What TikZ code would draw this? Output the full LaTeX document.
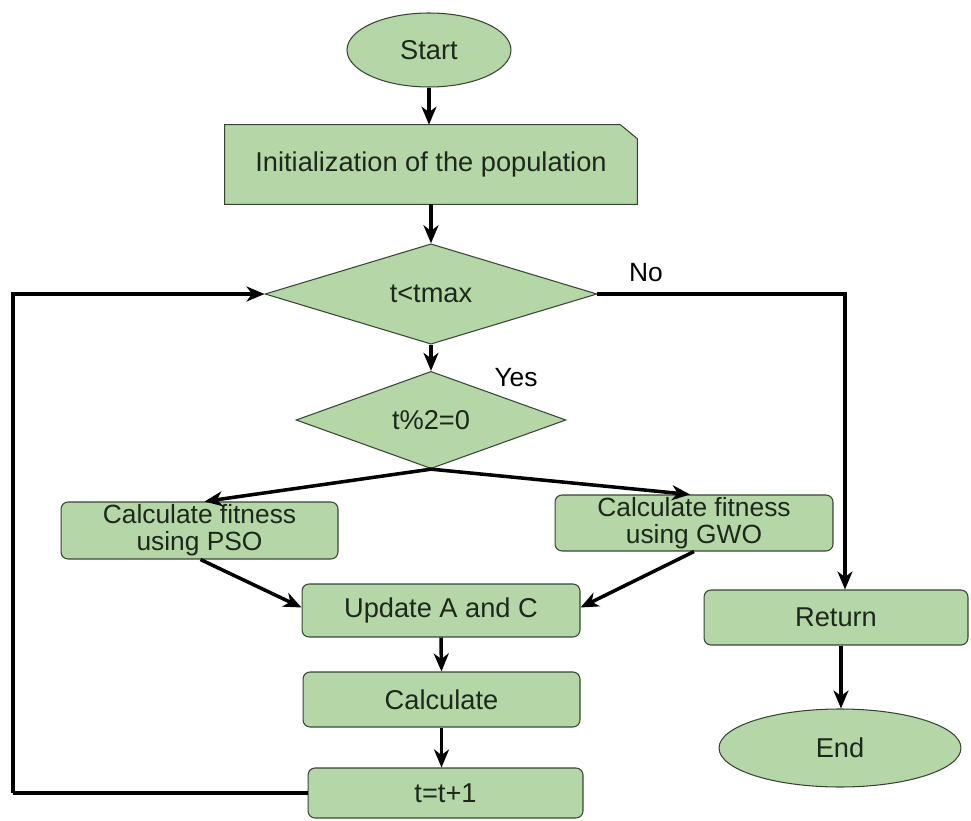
\documentclass[tikz,border=0pt]{standalone}
\usepackage{fontspec}
\setmainfont{Liberation Sans}
\usetikzlibrary{shapes.geometric,arrows.meta}
\definecolor{boxfill}{RGB}{181,214,167}
\definecolor{boxline}{RGB}{55,70,50}
\definecolor{txt}{RGB}{28,40,28}
\tikzset{
  base/.style={fill=boxfill,draw=boxline,line width=0.6pt,text=txt,font=\fontsize{15.5}{17}\selectfont,align=center,inner sep=0pt},
  two/.style={font=\fontsize{15}{15.5}\selectfont},
  rbox/.style={base,rectangle,rounded corners=4pt},
  term/.style={base,ellipse},
  dec/.style={base,diamond},
  arr/.style={line width=2pt,-{Stealth[length=0.36cm,width=0.3cm,inset=0.11cm]}},
  ln/.style={line width=2pt},
  lab/.style={font=\fontsize{15}{17}\selectfont,text=black}
}
\begin{document}
\begin{tikzpicture}[x=0.02cm,y=-0.02cm]
\useasboundingbox (0,0) rectangle (971,821);
\node[term,minimum width=3.28cm,minimum height=1.48cm] (start) at (429,50) {Start};
\node[rectangle,minimum width=8.24cm,minimum height=1.58cm,inner sep=0pt] (init) at (431,164.5) {};
\fill[boxfill,draw=boxline,line width=0.6pt] (init.south west) -- (init.north west) -- ([xshift=-0.34cm]init.north east) -- ([yshift=-0.28cm]init.north east) -- (init.south east) -- cycle;
\node[text=txt,font=\fontsize{15.5}{17}\selectfont] at (init.center) {Initialization of the population};
\node[dec,minimum width=6.64cm,minimum height=1.76cm] (d1) at (431,294) {t<tmax};
\node[dec,minimum width=5.4cm,minimum height=1.76cm] (d2) at (431,420) {t\%2=0};
\node[rbox,two,minimum width=5.54cm,minimum height=1.14cm] (pso) at (199.5,530.5) {Calculate fitness\\using PSO};
\node[rbox,two,minimum width=5.56cm,minimum height=1.12cm] (gwo) at (694,523) {Calculate fitness\\using GWO};
\node[rbox,minimum width=5.56cm,minimum height=1.06cm] (upd) at (441,610.5) {Update A and C};
\node[rbox,minimum width=5.54cm,minimum height=1.1cm] (calc) at (441.5,699.5) {Calculate};
\node[rbox,minimum width=5.5cm,minimum height=1.0cm] (tt) at (445.5,793) {t=t+1};
\node[rbox,minimum width=5.28cm,minimum height=1.1cm] (ret) at (836,617.5) {Return};
\node[term,minimum width=4.84cm,minimum height=1.56cm] (end) at (840,748) {End};
\node[lab] (no) at (646,273) {No};
\node[lab] (yes) at (516,378) {Yes};
\coordinate (lp) at (13,796);
\draw[arr] (start.south) -- (start.south|-init.north);
\draw[arr] (init.south) -- (d1.north);
\draw[arr] (d1.south) -- (d2.north);
\draw[arr] (d2.south) -- ([xshift=0.1cm]pso.north);
\draw[arr] (d2.south) -- ([xshift=-0.08cm]gwo.north);
\draw[arr] ([xshift=0.02cm]pso.south) -- ([yshift=0.06cm]upd.west);
\draw[arr] (gwo.south) -- ([yshift=0.06cm]upd.east);
\draw[arr] (upd.south) -- (calc.north);
\draw[arr] (calc.south) -- (calc.south|-tt.north);
\draw[arr] (d1.east) -| ([xshift=0.18cm]ret.north);
\draw[arr] ([xshift=0.1cm]ret.south) -- ([xshift=0.1cm]ret.south|-end.north);
\draw[ln] (tt.west) -- (tt.west-|lp);
\draw[arr] (tt.west-|lp) |- (d1.west);
\end{tikzpicture}
\end{document}
